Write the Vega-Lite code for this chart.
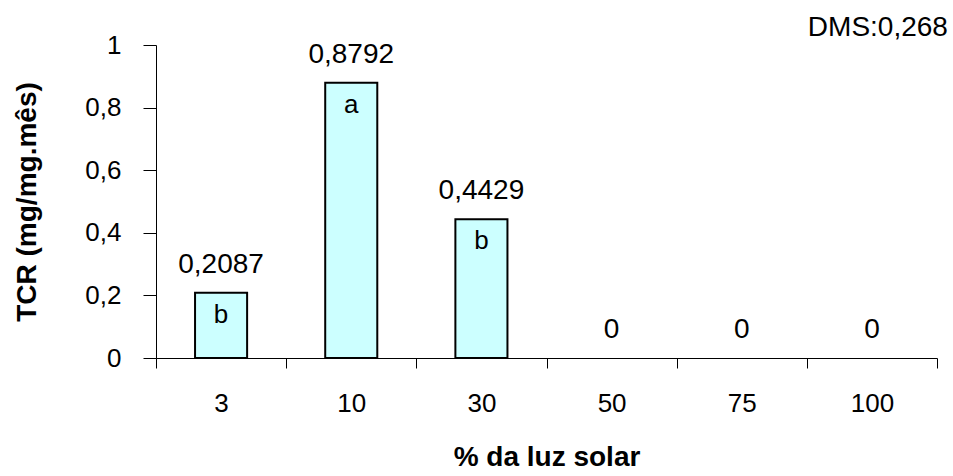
{
  "$schema": "https://vega.github.io/schema/vega-lite/v6.json",
  "width": 781,
  "height": 313,
  "autosize": {"type": "none"},
  "padding": {"left": 156, "top": 45, "right": 16, "bottom": 118},
  "background": "white",
  "config": {
    "locale": {"number": {"decimal": ",", "thousands": ".", "grouping": [3], "currency": ["", ""]}},
    "view": {"stroke": null},
    "font": "Liberation Sans"
  },
  "data": {
    "values": [
      {"luz": "3", "tcr": 0.2087, "letra": "b"},
      {"luz": "10", "tcr": 0.8792, "letra": "a"},
      {"luz": "30", "tcr": 0.4429, "letra": "b"},
      {"luz": "50", "tcr": 0, "letra": ""},
      {"luz": "75", "tcr": 0, "letra": ""},
      {"luz": "100", "tcr": 0, "letra": ""}
    ]
  },
  "encoding": {
    "x": {
      "field": "luz",
      "type": "ordinal",
      "sort": null,
      "scale": {"paddingInner": 0, "paddingOuter": 0},
      "axis": {
        "title": "% da luz solar",
        "labelAngle": 0,
        "tickBand": "extent",
        "tickSize": 10,
        "tickColor": "black",
        "domainColor": "black",
        "labelColor": "black",
        "labelFontSize": 26,
        "labelFont": "Liberation Sans",
        "labelPadding": 22,
        "titleFont": "Liberation Sans",
        "titleFontSize": 28,
        "titleFontWeight": "bold",
        "titleColor": "black",
        "titlePadding": 27
      }
    },
    "y": {
      "field": "tcr",
      "type": "quantitative",
      "scale": {"domain": [0, 1]},
      "axis": {
        "title": "TCR (mg/mg.mês)",
        "values": [0, 0.2, 0.4, 0.6, 0.8, 1],
        "format": "~g",
        "grid": false,
        "tickSize": 13,
        "tickColor": "black",
        "domainColor": "black",
        "labelColor": "black",
        "labelFontSize": 26,
        "labelFont": "Liberation Sans",
        "labelPadding": 22,
        "titleFont": "Liberation Sans",
        "titleFontSize": 28,
        "titleFontWeight": "bold",
        "titleColor": "black",
        "titlePadding": 43
      }
    }
  },
  "layer": [
    {
      "transform": [{"filter": "datum.tcr > 0"}],
      "mark": {"type": "bar", "width": {"band": 0.4}, "fill": "#CCFFFF", "stroke": "black", "strokeWidth": 2}
    },
    {
      "mark": {"type": "text", "baseline": "alphabetic", "dy": -20, "fontSize": 28, "color": "black"},
      "encoding": {"text": {"field": "tcr", "type": "quantitative", "format": "~g"}}
    },
    {
      "mark": {"type": "text", "baseline": "alphabetic", "dy": 30, "fontSize": 26, "color": "black"},
      "encoding": {"text": {"field": "letra", "type": "nominal"}}
    },
    {
      "transform": [{"filter": "datum.luz === '100'"}],
      "mark": {"type": "text", "align": "right", "baseline": "alphabetic", "dx": 76, "dy": -9, "fontSize": 28, "color": "black"},
      "encoding": {
        "y": {"datum": 1},
        "text": {"value": "DMS:0,268"}
      }
    }
  ]
}
